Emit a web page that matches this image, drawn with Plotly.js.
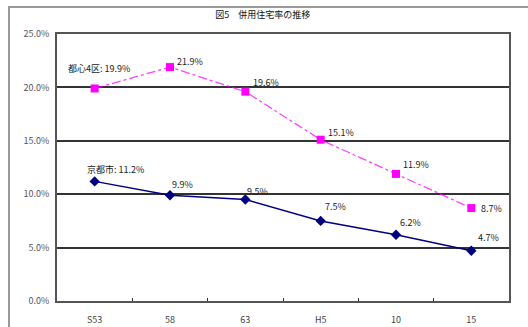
<!DOCTYPE html>
<html>
<head>
<meta charset="utf-8">
<script src="https://cdn.plot.ly/plotly-3.0.1.min.js"></script>
<style>
  html, body { margin: 0; padding: 0; background: #fff; }
  #wrap { position: relative; width: 528px; height: 327px; overflow: hidden; }
  #chart { width: 528px; height: 327px; }
  #frame { position: absolute; left: 8px; top: 6px; width: 600px; height: 400px;
           border-left: 2px solid #9a9a9a; border-top: 2px solid #9a9a9a; pointer-events: none; }
</style>
</head>
<body>
<div id="wrap">
  <div id="chart"></div>
  <div id="frame"></div>
</div>
<script>
// Survey years (Showa / Heisei)
const years = ['S53', '58', '63', 'H5', '10', '15'];
// Share of dwellings, %
const central4 = [19.9, 21.9, 19.6, 15.1, 11.9, 8.7];
const kyotoCity = [11.2, 9.9, 9.5, 7.5, 6.2, 4.7];
const central4Name = '都心4区';
const kyotoName = '京都市';
const yTicks = [0, 5, 10, 15, 20, 25];

const FONT = '"Noto Sans CJK JP", "DejaVu Sans", sans-serif';
const PINK = '#ff00ff';
const NAVY = '#000080';

// label offsets (px) relative to each marker
const pinkShift = [[-29, 20], [5, 6], [6, 9], [5, 7], [5, 9], [8, 0]];
const navyShift = [[-10, 12], [0, 11], [0, 8], [2, 14], [2, 12], [5, 13]];

// annotations on a category axis are placed by category index
function labels(vals, name, shifts) {
  return vals.map((v, i) => ({
    x: i, y: v, xref: 'x', yref: 'y',
    text: (i === 0 ? name + ': ' : '') + v.toFixed(1) + '%',
    showarrow: false, xanchor: 'left', yanchor: 'middle',
    xshift: shifts[i][0], yshift: shifts[i][1],
    font: { family: FONT, size: 9, color: '#222' }
  }));
}

const traces = [
  {
    x: years, y: central4, name: central4Name, type: 'scatter', mode: 'lines+markers',
    line: { color: 'rgba(255,0,255,0.75)', width: 1.3, dash: 'dashdot' },
    marker: { symbol: 'square', size: 8, color: PINK }
  },
  {
    x: years, y: kyotoCity, name: kyotoName, type: 'scatter', mode: 'lines+markers',
    line: { color: NAVY, width: 1.5 },
    marker: { symbol: 'diamond', size: 8, color: NAVY }
  }
];

const layout = {
  width: 528, height: 327,
  margin: { l: 57, r: 19, t: 34, b: 26 },
  paper_bgcolor: '#fff', plot_bgcolor: '#fff',
  showlegend: false,
  title: {
    text: '図5　併用住宅率の推移',
    font: { family: FONT, size: 9, color: '#111' },
    xref: 'paper', x: 0.455, xanchor: 'center',
    yref: 'container', y: 0.955, yanchor: 'middle'
  },
  xaxis: {
    type: 'category', categoryorder: 'array', categoryarray: years,
    range: [-0.5, years.length - 0.5], autorange: false,
    showgrid: false, zeroline: false,
    showline: true, linecolor: '#555', linewidth: 2, mirror: true,
    ticks: 'inside', tickson: 'boundaries', ticklen: 3, tickcolor: '#333',
    ticklabelstandoff: 9,
    tickfont: { family: FONT, size: 9, color: '#444' }
  },
  yaxis: {
    range: [0, 25], autorange: false, tickvals: yTicks,
    ticktext: yTicks.map(v => v.toFixed(1) + '%'),
    showgrid: true, gridcolor: '#333', gridwidth: 2,
    zeroline: false,
    showline: true, linecolor: '#555', linewidth: 2, mirror: true,
    ticks: '', ticklabelstandoff: 4,
    tickfont: { family: FONT, size: 9, color: '#555' }
  },
  annotations: labels(central4, central4Name, pinkShift)
    .concat(labels(kyotoCity, kyotoName, navyShift))
};

Plotly.newPlot('chart', traces, layout, { staticPlot: true, displayModeBar: false });
</script>
</body>
</html>
